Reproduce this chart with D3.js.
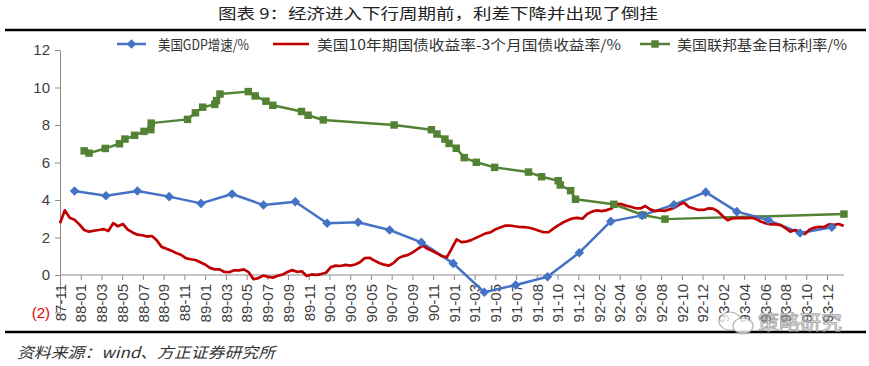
<!DOCTYPE html>
<html><head><meta charset="utf-8">
<script src="https://cdn.jsdelivr.net/npm/d3@7"></script>
<style>body{margin:0;background:#fff} svg{display:block}</style>
</head><body><svg id="c" width="869" height="366"></svg>
<script>
const title = "图表 9：经济进入下行周期前，利差下降并出现了倒挂";
const source = "资料来源：wind、方正证券研究所";
const watermark = "策略研究";
const seriesNames = ["美国GDP增速/%", "美国10年期国债收益率-3个月国债收益率/%", "美国联邦基金目标利率/%"];
const seriesColors = ["#4472C4", "#C00000", "#548235"];

const tickLabels = ["87-11","88-01","88-03","88-05","88-07","88-09","88-11","89-01","89-03","89-05",
  "89-07","89-09","89-11","90-01","90-03","90-05","90-07","90-09","90-11","91-01","91-03","91-05",
  "91-07","91-08","91-10","91-12","92-02","92-04","92-06","92-08","92-10","92-12","93-02","93-04",
  "93-06","93-08","93-10","93-12"];
const tickDates = ["1987-11-19","1988-01-18","1988-03-18","1988-05-17","1988-07-16","1988-09-14",
  "1988-11-13","1989-01-12","1989-03-13","1989-05-12","1989-07-11","1989-09-09","1989-11-08",
  "1990-01-07","1990-03-08","1990-05-07","1990-07-06","1990-09-04","1990-11-03","1991-01-02",
  "1991-03-03","1991-05-02","1991-07-01","1991-08-30","1991-10-29","1991-12-28","1992-02-26",
  "1992-04-26","1992-06-25","1992-08-24","1992-10-23","1992-12-22","1993-02-20","1993-04-21",
  "1993-06-20","1993-08-19","1993-10-18","1993-12-17"];
const axisEndDate = "1994-02-04";
const yTicks = [-2, 0, 2, 4, 6, 8, 10, 12];

const gdpDates = ["1987-12-31","1988-03-31","1988-06-30","1988-09-30","1988-12-31","1989-03-31",
  "1989-06-30","1989-09-30","1989-12-31","1990-03-31","1990-06-30","1990-09-30","1990-12-31",
  "1991-03-31","1991-06-30","1991-09-30","1991-12-31","1992-03-31","1992-06-30","1992-09-30",
  "1992-12-31","1993-03-31","1993-06-30","1993-09-30","1993-12-31"];
const gdpValues = [4.48,4.23,4.48,4.18,3.82,4.32,3.73,3.91,2.76,2.81,2.4,1.74,0.62,
  -0.92,-0.53,-0.09,1.19,2.86,3.18,3.75,4.42,3.38,2.93,2.24,2.55];

const fedDates = ["1988-01-28","1988-02-11","1988-03-29","1988-05-09","1988-05-25","1988-06-22",
  "1988-07-19","1988-08-08","1988-08-09","1988-11-22","1988-12-15","1989-01-05","1989-02-09",
  "1989-02-14","1989-02-24","1989-05-17","1989-06-06","1989-07-07","1989-07-27","1989-10-18",
  "1989-11-06","1989-12-20","1990-07-13","1990-10-29","1990-11-14","1990-12-07","1990-12-19",
  "1991-01-09","1991-02-01","1991-03-08","1991-04-30","1991-08-06","1991-09-13","1991-10-31",
  "1991-11-06","1991-12-06","1991-12-20","1992-04-09","1992-07-02","1992-09-04","1994-02-04"];
const fedValues = [6.62,6.5,6.75,7.0,7.25,7.45,7.66,7.75,8.1,8.3,8.65,8.95,9.1,9.3,9.65,9.78,
  9.55,9.27,9.05,8.72,8.52,8.27,8.0,7.75,7.52,7.25,7.02,6.76,6.26,6.01,5.74,5.49,5.24,5.03,
  4.8,4.5,4.04,3.77,3.2,2.98,3.25];

const spreadStart = "1987-11-19";
const spreadStepDays = 14;
const spreadValues = [2.76,3.45,3.05,2.95,2.7,2.4,2.31,2.36,2.4,2.45,
  2.35,2.76,2.6,2.72,2.42,2.27,2.15,2.12,2.05,2.08,
  1.85,1.5,1.4,1.3,1.17,1.08,0.9,0.84,0.8,0.68,
  0.56,0.38,0.3,0.3,0.16,0.15,0.25,0.25,0.3,0.15,
  -0.22,-0.17,-0.03,-0.1,-0.14,-0.04,0.02,0.16,0.26,0.17,
  0.2,-0.05,0.03,0.01,0.05,0.12,0.42,0.5,0.48,0.54,
  0.5,0.56,0.68,0.9,0.92,0.77,0.64,0.55,0.5,0.65,
  0.9,1.01,1.07,1.22,1.4,1.57,1.4,1.28,1.15,1.0,
  0.95,1.42,1.9,1.75,1.78,1.86,1.98,2.1,2.22,2.27,
  2.43,2.53,2.63,2.64,2.6,2.56,2.55,2.52,2.45,2.36,
  2.28,2.28,2.47,2.65,2.8,2.92,3.02,3.05,3.0,3.25,
  3.38,3.45,3.41,3.46,3.55,3.8,3.78,3.7,3.64,3.56,
  3.55,3.68,3.5,3.41,3.45,3.42,3.5,3.58,3.74,3.86,
  3.63,3.55,3.47,3.47,3.55,3.54,3.4,3.15,2.92,3.02,
  3.03,3.05,3.03,3.05,2.97,2.84,2.75,2.7,2.7,2.66,
  2.5,2.31,2.4,2.31,2.18,2.43,2.53,2.57,2.56,2.7,
  2.67,2.72,2.62];

const parse = d3.timeParse("%Y-%m-%d");
const svg = d3.select("#c");
const numFont = "'Liberation Sans', Arial, sans-serif";
const cjkFont = "'Noto Sans CJK SC', sans-serif";

const x = d3.scaleTime()
  .domain([parse(tickDates[0]), parse(tickDates[tickDates.length - 1])])
  .range([60, 827]);
const y = d3.scaleLinear().domain([-2, 12]).range([312.5, 50]);

// title & frame lines
svg.append("text").attr("x", 218).attr("y", 19)
  .attr("textLength", 440).attr("lengthAdjust", "spacingAndGlyphs")
  .style("font-family", cjkFont).style("font-size", "15px").attr("fill", "#222")
  .text(title);
svg.append("line").attr("x1", 5).attr("x2", 866).attr("y1", 30).attr("y2", 30)
  .attr("stroke", "#000").attr("stroke-width", 2.5);
svg.append("line").attr("x1", 5).attr("x2", 866).attr("y1", 332).attr("y2", 332)
  .attr("stroke", "#000").attr("stroke-width", 2.5);
svg.append("text").attr("x", 17).attr("y", 358)
  .attr("textLength", 258).attr("lengthAdjust", "spacingAndGlyphs")
  .style("font-family", cjkFont).style("font-size", "15px").style("font-style", "italic")
  .attr("fill", "#333").text(source);

// y axis
const yAxis = svg.append("g").attr("transform", "translate(60,0)")
  .call(d3.axisLeft(y).tickValues(yTicks).tickSize(5).tickSizeOuter(0).tickPadding(5)
    .tickFormat(v => v < 0 ? "(" + Math.abs(v) + ")" : String(v)));
yAxis.select(".domain").attr("stroke", "#8c8c8c");
yAxis.selectAll(".tick line").attr("stroke", "#8c8c8c");
yAxis.selectAll(".tick text").style("font-family", numFont).style("font-size", "15px")
  .attr("fill", d => d < 0 ? "#E00000" : "#404040");

// x axis at y = 0
const xAxis = svg.append("g").attr("transform", `translate(0,${y(0)})`)
  .call(d3.axisBottom(x).tickValues(tickDates.map(parse)).tickSize(5).tickSizeOuter(0)
    .tickFormat((d, i) => tickLabels[i]));
xAxis.select(".domain").remove();
xAxis.append("line").attr("x1", x(parse(tickDates[0]))).attr("x2", x(parse(axisEndDate)))
  .attr("stroke", "#8c8c8c");
xAxis.selectAll(".tick line").attr("stroke", "#8c8c8c");
xAxis.selectAll(".tick text")
  .attr("transform", "rotate(-90)").attr("text-anchor", "end")
  .attr("x", -9).attr("y", 0).attr("dy", "0.35em")
  .style("font-family", numFont).style("font-size", "15px").attr("fill", "#404040");

// series
const spreadData = spreadValues.map((v, i) => ({d: d3.timeDay.offset(parse(spreadStart), i * spreadStepDays), v}));
const gdpData = gdpDates.map((d, i) => ({d: parse(d), v: gdpValues[i]}));
const fedData = fedDates.map((d, i) => ({d: parse(d), v: fedValues[i]}));
const line = d3.line().x(p => x(p.d)).y(p => y(p.v));

svg.append("path").datum(fedData).attr("d", line).attr("fill", "none")
  .attr("stroke", seriesColors[2]).attr("stroke-width", 2.5).attr("stroke-linejoin", "round");
svg.append("path").datum(gdpData).attr("d", line).attr("fill", "none")
  .attr("stroke", seriesColors[0]).attr("stroke-width", 2.5).attr("stroke-linejoin", "round");
svg.append("path").datum(spreadData).attr("d", line).attr("fill", "none")
  .attr("stroke", seriesColors[1]).attr("stroke-width", 2.7).attr("stroke-linejoin", "round");

const sq = d3.symbol(d3.symbolSquare, 56)();
const dia = d3.symbol(d3.symbolSquare, 46)();
svg.append("g").selectAll("path").data(fedData).join("path")
  .attr("d", sq).attr("transform", p => `translate(${x(p.d)},${y(p.v)})`)
  .attr("fill", seriesColors[2]);
svg.append("g").selectAll("path").data(gdpData).join("path")
  .attr("d", dia).attr("transform", p => `translate(${x(p.d)},${y(p.v)}) rotate(45)`)
  .attr("fill", seriesColors[0]);

// legend
const legend = [
  {x1: 117, x2: 146, tx: 158, tl: 91, mark: "dia"},
  {x1: 273, x2: 309, tx: 317, tl: 304, mark: null},
  {x1: 640, x2: 670, tx: 677, tl: 170, mark: "sq"}
];
legend.forEach((l, i) => {
  const g = svg.append("g");
  g.append("line").attr("x1", l.x1).attr("x2", l.x2).attr("y1", 44).attr("y2", 44)
    .attr("stroke", seriesColors[i]).attr("stroke-width", i === 1 ? 2.7 : 2.5);
  const cx = (l.x1 + l.x2) / 2;
  if (l.mark === "dia") g.append("path").attr("d", dia).attr("transform", `translate(${cx},44) rotate(45)`).attr("fill", seriesColors[i]);
  if (l.mark === "sq") g.append("path").attr("d", sq).attr("transform", `translate(${cx},44)`).attr("fill", seriesColors[i]);
  g.append("text").attr("x", l.tx).attr("y", 49.5)
    .attr("textLength", l.tl).attr("lengthAdjust", "spacingAndGlyphs")
    .style("font-family", cjkFont).style("font-size", "14px").attr("fill", "#333")
    .text(seriesNames[i]);
});

// watermark
const wm = svg.append("g").attr("opacity", 0.75);
wm.append("ellipse").attr("cx", 730).attr("cy", 321).attr("rx", 11).attr("ry", 9)
  .attr("fill", "#fff").attr("stroke", "#9a9a9a").attr("stroke-width", 1.2);
wm.append("ellipse").attr("cx", 743).attr("cy", 326).attr("rx", 10).attr("ry", 8)
  .attr("fill", "#fff").attr("stroke", "#9a9a9a").attr("stroke-width", 1.2);
wm.append("text").attr("x", 758).attr("y", 330).attr("textLength", 84).attr("lengthAdjust", "spacingAndGlyphs")
  .style("font-family", cjkFont).style("font-size", "20px")
  .attr("fill", "#fff").attr("stroke", "#8a8a8a").attr("stroke-width", 0.9).text(watermark);
</script></body></html>
